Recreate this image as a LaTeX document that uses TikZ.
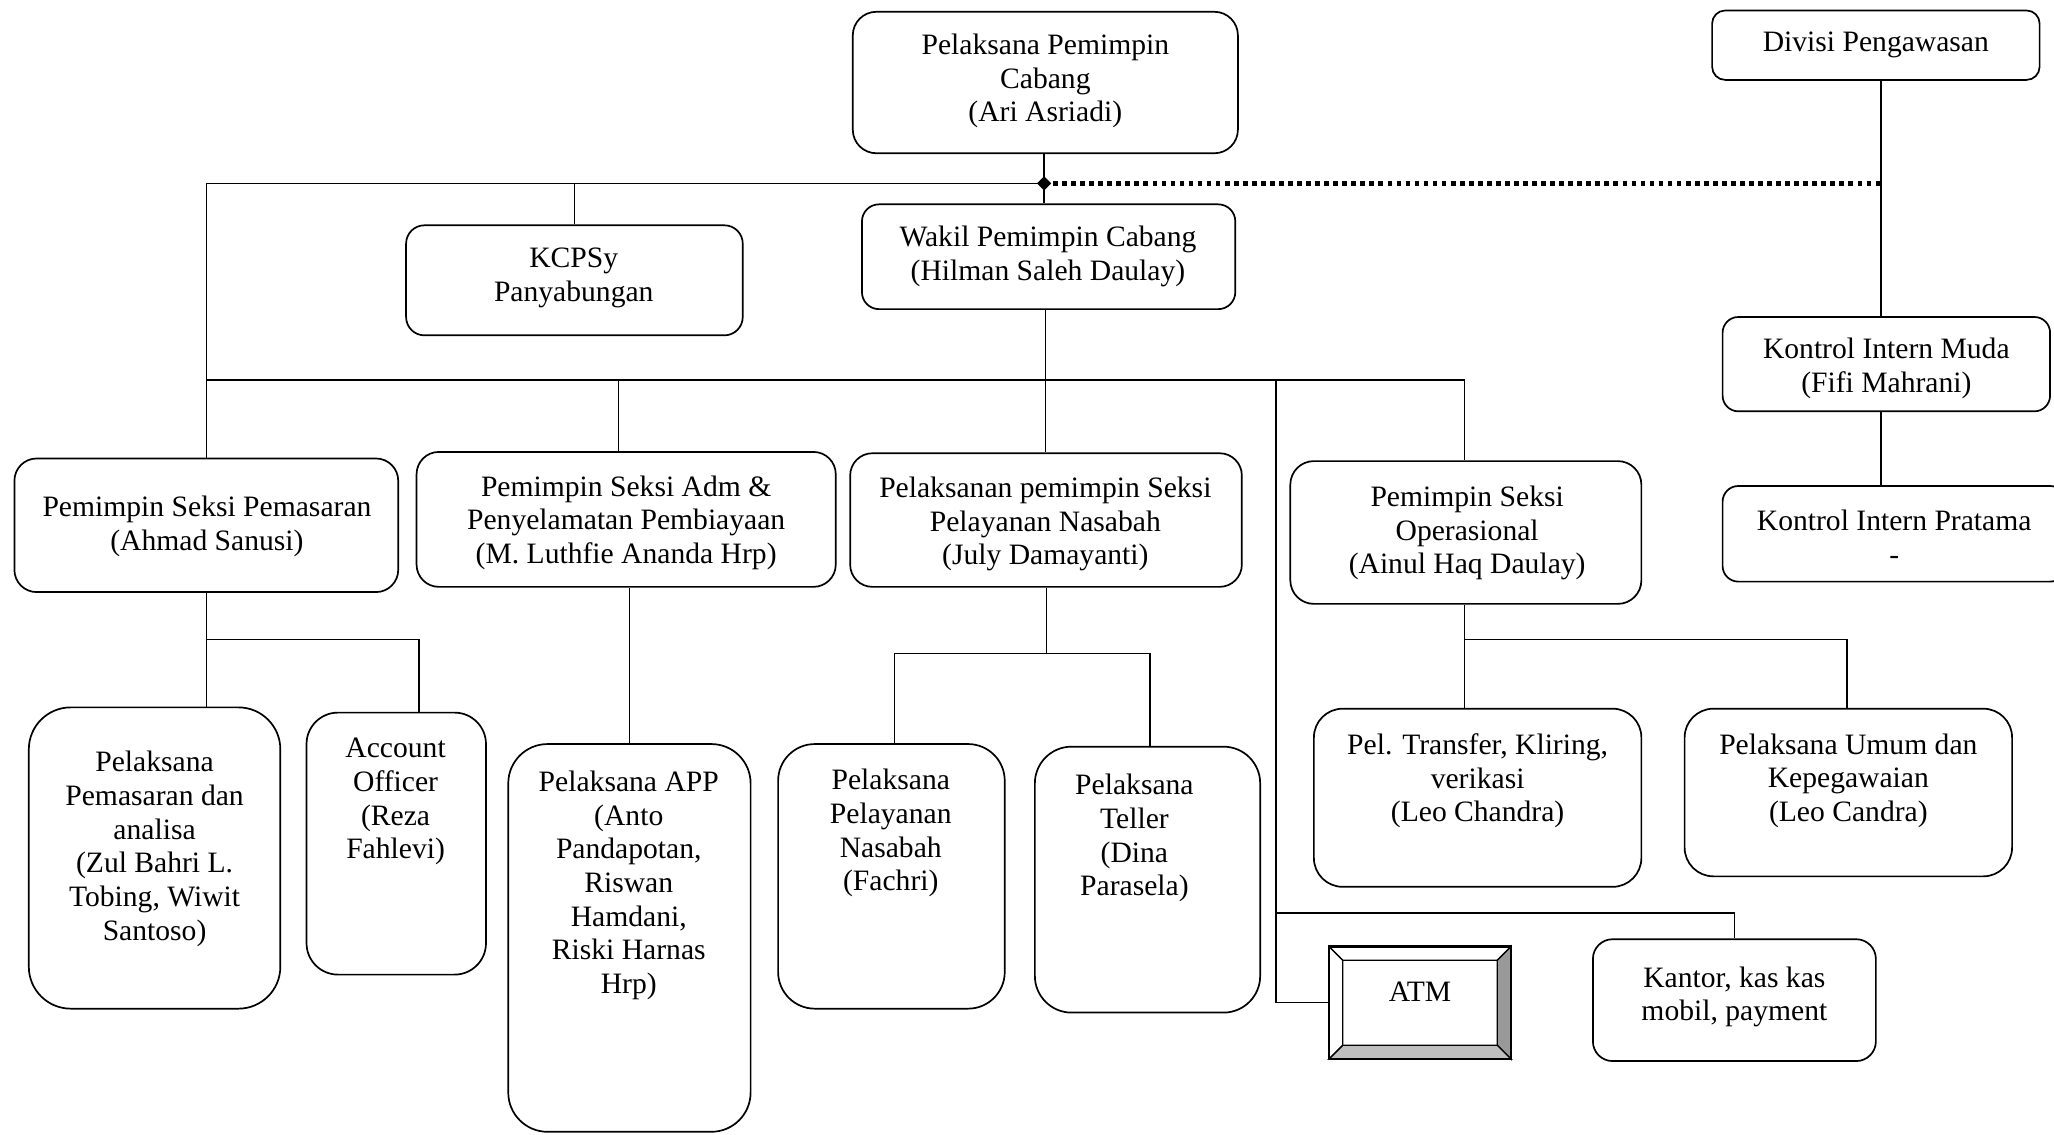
\documentclass[tikz,border=0pt]{standalone}
\usepackage{fontspec}
\setmainfont{Liberation Serif}
\usetikzlibrary{shapes.geometric,calc}
\newcommand\orgfnt{\fontsize{22.6}{25.7}\selectfont}
\begin{document}
\begin{tikzpicture}[x=1pt,y=-1pt,
  box/.style={draw, line width=1.3pt, rounded corners=#1, inner sep=0pt},
  box/.default=15pt,
  txt/.style={align=center, inner sep=0pt, font=\orgfnt},
  conn/.style={line width=1.1pt},
  dotconn/.style={line width=3.4pt, dash pattern=on 3.6pt off 3.3pt}]
\useasboundingbox (0,0) rectangle (1568,866);
\clip (0,0) rectangle (1568,866);
% boxes
\node[box=18pt, minimum width=294pt, minimum height=108pt] (ketua) at (798,63) {};
\node[box=10pt, minimum width=250pt, minimum height=53pt] (divisi) at (1432,34.5) {};
\node[box=14pt, minimum width=257pt, minimum height=84pt] (kcp) at (438.5,214) {};
\node[box=13pt, minimum width=285pt, minimum height=80pt] (wakil) at (800.5,196) {};
\node[box=17pt, minimum width=293pt, minimum height=102pt] (pemasaran) at (157.5,401) {};
\node[box=17pt, minimum width=320pt, minimum height=103pt] (adm) at (478,396.5) {};
\node[box=17pt, minimum width=299pt, minimum height=102pt] (pelayanan) at (798.5,397) {};
\node[box=18pt, minimum width=268pt, minimum height=109pt] (operasional) at (1119,406.5) {};
\node[box=12pt, minimum width=250pt, minimum height=72pt] (muda) at (1440,278) {};
\node[box=12pt, minimum width=262pt, minimum height=73pt] (pratama) at (1446,407.5) {};
\node[box=32pt, minimum width=192pt, minimum height=230pt] (pelpem) at (118,655) {};
\node[box=24pt, minimum width=137pt, minimum height=200pt] (account) at (302.5,644) {};
\node[box=30pt, minimum width=185pt, minimum height=296pt] (app) at (480.5,716) {};
\node[box=28pt, minimum width=173pt, minimum height=202pt] (pelnas) at (680.5,669) {};
\node[box=28pt, minimum width=172pt, minimum height=203pt] (teller) at (876,671.5) {};
\node[box=22pt, minimum width=250pt, minimum height=136pt] (transfer) at (1128,609) {};
\node[box=22pt, minimum width=250pt, minimum height=128pt] (umum) at (1411,605) {};
\node[box=15pt, minimum width=216pt, minimum height=93pt] (kantor) at (1324,763.5) {};
% ATM bevel box
\node[draw, line width=1.3pt, minimum width=138pt, minimum height=85pt, inner sep=0pt] (atm) at (1084,765.5) {};
\coordinate (ine) at ($(atm.north east)+(-10.7,10.7)$);
\coordinate (ise) at ($(atm.south east)+(-10.7,-10.7)$);
\coordinate (isw) at ($(atm.south west)+(10.7,-10.7)$);
\coordinate (inw) at ($(atm.north west)+(10.7,10.7)$);
\filldraw[fill=gray!80, line width=1pt] (atm.north east) -- (atm.south east) -- (ise) -- (ine) -- cycle;
\filldraw[fill=gray!50, line width=1pt] (atm.south west) -- (atm.south east) -- (ise) -- (isw) -- cycle;
\draw[line width=1pt] (atm.north west) -- (inw) -- (ine) -- (atm.north east);
\draw[line width=1pt] (atm.north west) -- (inw) -- (isw) -- (atm.south west);
\draw[line width=1.3pt] (atm.north west) rectangle (atm.south east);
% texts
\node[txt] (tketua) at (798,62) {Pelaksana Pemimpin\\Cabang\\(Ari Asriadi)};
\node[txt] (tdivisi) at (1432,34) {Divisi Pengawasan};
\node[txt] (tkcp) at (438,212) {KCPSy\\Panyabungan};
\node[txt] (twakil) at (800,196) {Wakil Pemimpin Cabang\\(Hilman Saleh Daulay)};
\node[txt] (tpemasaran) at (158,402) {Pemimpin Seksi Pemasaran\\(Ahmad Sanusi)};
\node[txt] (tadm) at (478,399) {Pemimpin Seksi Adm \&\\Penyelamatan Pembiayaan\\(M. Luthfie Ananda Hrp)};
\node[txt] (tpelayanan) at (798,400) {Pelaksanan pemimpin Seksi\\Pelayanan Nasabah\\(July Damayanti)};
\node[txt] (toperasional) at (1120,407) {Pemimpin Seksi\\Operasional\\(Ainul Haq Daulay)};
\node[txt] (tmuda) at (1440,281) {Kontrol Intern Muda\\(Fifi Mahrani)};
\node[txt] (tpratama) at (1446,410) {Kontrol Intern Pratama\\-};
\node[txt] (tpelpem) at (118,648) {Pelaksana\\Pemasaran dan\\analisa\\(Zul Bahri L.\\Tobing, Wiwit\\Santoso)};
\node[txt] (taccount) at (302,612) {Account\\Officer\\(Reza\\Fahlevi)};
\node[txt] (tapp) at (480,676) {Pelaksana APP\\(Anto\\Pandapotan,\\Riswan\\Hamdani,\\Riski Harnas\\Hrp)};
\node[txt] (tpelnas) at (680,636) {Pelaksana\\Pelayanan\\Nasabah\\(Fachri)};
\node[txt] (tteller) at (866,640) {Pelaksana\\Teller\\(Dina\\Parasela)};
\node[txt] (ttransfer) at (1128,596) {Pel. Transfer, Kliring,\\verikasi\\(Leo Chandra)};
\node[txt] (tumum) at (1411,596) {Pelaksana Umum dan\\Kepegawaian\\(Leo Candra)};
\node[txt] (tatm) at (1084,757) {ATM};
\node[txt] (tkantor) at (1324,761) {Kantor, kas kas\\mobil, payment};
% junction coordinates
\coordinate (j1) at (797,140);
\coordinate (dv) at (1436,0);
\coordinate (b2) at (798,290);
\coordinate (xa) at (472,290);
\coordinate (xatm) at (974,290);
\coordinate (kb) at (974,697);
\coordinate (c1) at (158,488);
\coordinate (xacc) at (320,488);
\coordinate (c3) at (799,499);
\coordinate (xn) at (683,499);
\coordinate (xt) at (878,499);
\coordinate (c4) at (1118,488);
\coordinate (c5) at (1410,488);
% connectors level 1
\draw[conn] (ketua.south -| j1) -- (wakil.north -| j1);
\draw[conn] (pemasaran.north) |- (j1);
\draw[conn] (kcp.north) -- (kcp.north |- j1);
\draw[dotconn] (j1) -- (j1 -| dv);
\draw[conn] (divisi.south -| dv) -- (muda.north -| dv);
\draw[conn] (muda.south -| dv) -- (pratama.north -| dv);
\node[diamond, fill, inner sep=0pt, minimum size=11pt] (dia) at (j1) {};
% level 2
\draw[conn] (wakil.south -| b2) -- (b2);
\draw[conn] (pemasaran.north |- b2) -- (c4 |- b2);
\draw[conn] (xa) -- (adm.north -| xa);
\draw[conn] (b2) -- (pelayanan.north -| b2);
\draw[conn] (c4 |- b2) -- (operasional.north -| c4);
\draw[conn] (xatm) |- (atm.west);
\draw[conn] (kb) -| (kantor.north);
% level 3
\draw[conn] (pemasaran.south) -- (pemasaran.south |- pelpem.north);
\draw[conn] (c1) -- (xacc) -- (xacc |- account.north);
\draw[conn] (app.north) -- (app.north |- adm.south);
\draw[conn] (pelayanan.south -| c3) -- (c3);
\draw[conn] (xn |- pelnas.north) -- (xn) -- (xt) -- (xt |- teller.north);
\draw[conn] (operasional.south -| c4) -- (c4 |- transfer.north);
\draw[conn] (c4) -- (c5) -- (c5 |- umum.north);
\end{tikzpicture}
\end{document}
